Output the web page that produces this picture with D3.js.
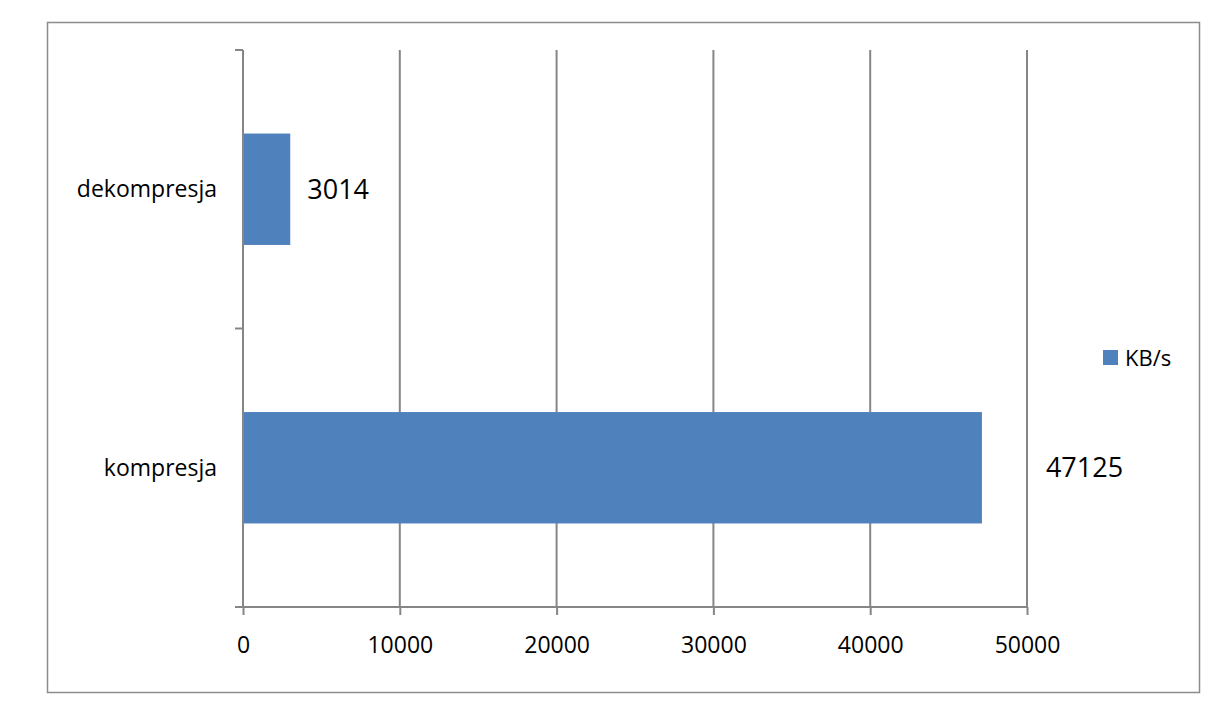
<!DOCTYPE html>
<html>
<head>
<meta charset="utf-8">
<script src="https://cdnjs.cloudflare.com/ajax/libs/d3/7.8.5/d3.min.js"></script>
<style>
  body { margin: 0; background: #fff; }
  text { font-family: "Open Sans", "Liberation Sans", sans-serif; fill: #000; }
</style>
</head>
<body>
<div id="chart"></div>
<script>
const categories = ["dekompresja", "kompresja"];
const values = [3014, 47125];
const xTicks = [0, 10000, 20000, 30000, 40000, 50000];
const seriesName = "KB/s";

const width = 1217;
const height = 724;
const margin = { top: 50, right: 190, bottom: 117, left: 243 };

const svg = d3.select("#chart").append("svg")
  .attr("width", width)
  .attr("height", height);

// outer chart frame
svg.append("rect")
  .attr("x", 47.5).attr("y", 22.5)
  .attr("width", 1152).attr("height", 670)
  .attr("fill", "none")
  .attr("stroke", "#8c8c8c")
  .attr("stroke-width", 1.5);

const x = d3.scaleLinear()
  .domain([0, 50000])
  .range([margin.left, width - margin.right]);

const y = d3.scaleBand()
  .domain(categories)
  .range([margin.top, height - margin.bottom])
  .paddingInner(0.6)
  .paddingOuter(0.3);

const grey = "#868686";

// vertical gridlines
svg.append("g")
  .selectAll("line")
  .data(xTicks.slice(1))
  .enter().append("line")
  .attr("x1", d => x(d)).attr("x2", d => x(d))
  .attr("y1", margin.top).attr("y2", height - margin.bottom)
  .attr("stroke", grey)
  .attr("stroke-width", 2);

// bars
svg.append("g")
  .selectAll("rect")
  .data(values)
  .enter().append("rect")
  .attr("x", x(0))
  .attr("y", (d, i) => y(categories[i]))
  .attr("width", d => x(d) - x(0))
  .attr("height", y.bandwidth())
  .attr("fill", "#4f81bd");

// x axis
const xAxis = svg.append("g")
  .attr("transform", `translate(0,${height - margin.bottom})`)
  .call(d3.axisBottom(x).tickValues(xTicks).tickFormat(d3.format("d"))
    .tickSize(8).tickPadding(22).tickSizeOuter(0));
xAxis.select(".domain").remove();
xAxis.append("line")
  .attr("x1", x(0) - 8).attr("x2", x(50000))
  .attr("stroke", grey).attr("stroke-width", 2);
xAxis.selectAll(".tick line").attr("stroke", grey).attr("stroke-width", 2);
xAxis.selectAll(".tick text")
  .style("font-family", '"Open Sans", "Liberation Sans", sans-serif')
  .style("font-size", "23px")
  .attr("fill", "#000");

// y axis (category boundaries as ticks)
const step = y.step();
const bounds = [margin.top, margin.top + step * 1, height - margin.bottom];
svg.append("line")
  .attr("x1", x(0)).attr("x2", x(0))
  .attr("y1", margin.top).attr("y2", height - margin.bottom)
  .attr("stroke", grey).attr("stroke-width", 2);
svg.append("g")
  .selectAll("line")
  .data(bounds)
  .enter().append("line")
  .attr("x1", x(0) - 8).attr("x2", x(0))
  .attr("y1", d => d).attr("y2", d => d)
  .attr("stroke", grey).attr("stroke-width", 2);

// category labels
svg.append("g")
  .selectAll("text")
  .data(categories)
  .enter().append("text")
  .attr("x", x(0) - 26)
  .attr("y", d => y(d) + y.bandwidth() / 2)
  .attr("dy", "0.35em")
  .attr("text-anchor", "end")
  .style("font-size", "23px")
  .text(d => d);

// value labels
const labelGap = [17, 64];
svg.append("g")
  .selectAll("text")
  .data(values)
  .enter().append("text")
  .attr("x", (d, i) => x(d) + labelGap[i])
  .attr("y", (d, i) => y(categories[i]) + y.bandwidth() / 2)
  .attr("dy", "0.35em")
  .style("font-size", "27px")
  .text(d => d);

// legend
const legend = svg.append("g").attr("transform", "translate(1103,350)");
legend.append("rect")
  .attr("width", 15).attr("height", 15)
  .attr("fill", "#4f81bd");
legend.append("text")
  .attr("x", 22).attr("y", 8)
  .attr("dy", "0.35em")
  .style("font-size", "22px")
  .text(seriesName);
</script>
</body>
</html>
